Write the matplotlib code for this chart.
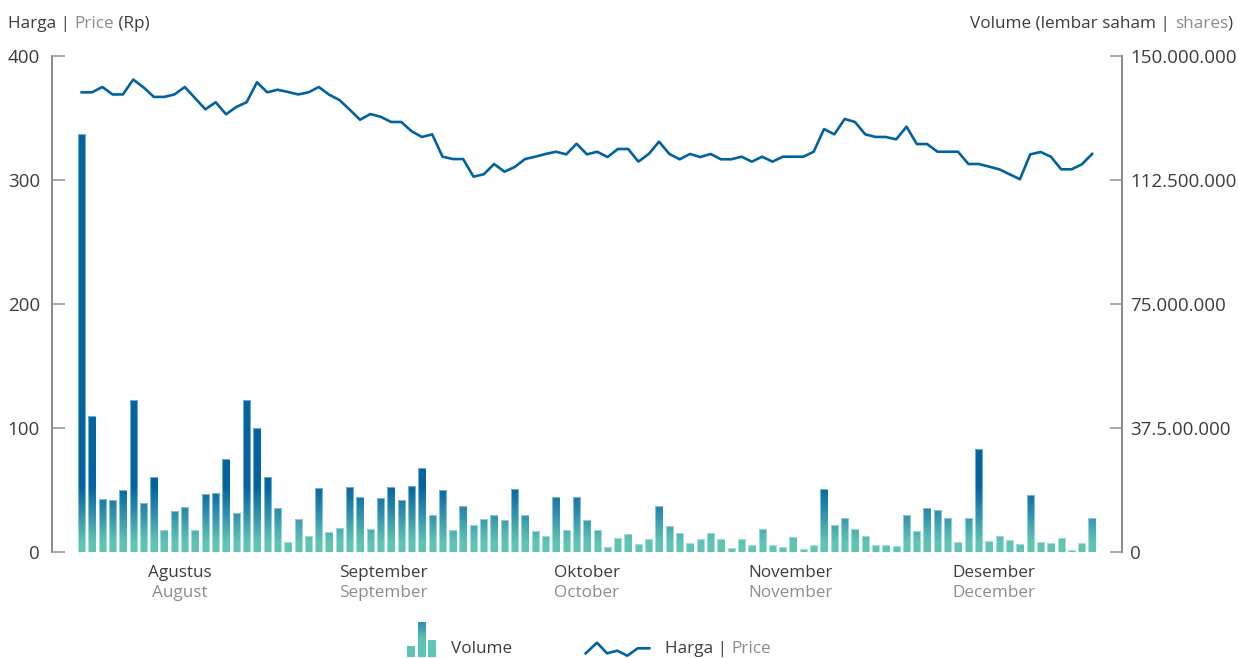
import numpy as np
import matplotlib
matplotlib.use("Agg")
import matplotlib.pyplot as plt
from matplotlib.colors import LinearSegmentedColormap
from matplotlib.patches import Rectangle
from matplotlib.ticker import FixedLocator, FixedFormatter

plt.rcParams["font.family"] = ["Open Sans", "DejaVu Sans"]

# daily volume (millions of shares), Aug - Dec
volume_mn = [126.5, 41.0, 16.0, 15.8, 18.7, 45.9, 14.9, 22.8, 6.6, 12.5,
             13.6, 6.7, 17.4, 17.8, 28.0, 11.8, 45.9, 37.5, 22.8, 13.4,
             3.1, 10.0, 4.8, 19.4, 6.0, 7.4, 19.7, 16.5, 7.0, 16.3,
             19.6, 15.8, 19.9, 25.3, 11.1, 18.8, 6.7, 14.0, 8.1, 9.9,
             11.1, 9.7, 19.1, 11.2, 6.4, 4.8, 16.5, 6.6, 16.5, 9.6,
             6.6, 1.6, 4.1, 5.5, 2.4, 4.0, 13.8, 7.9, 5.7, 2.7,
             3.9, 5.6, 3.8, 1.3, 3.9, 2.1, 6.9, 2.1, 1.4, 4.5,
             0.8, 2.0, 19.1, 8.1, 10.3, 7.0, 4.7, 2.1, 2.0, 1.8,
             11.1, 6.4, 13.3, 12.8, 10.2, 3.0, 10.3, 31.2, 3.2, 4.8,
             3.6, 2.3, 17.1, 2.9, 2.7, 4.2, 0.7, 2.7, 10.4]

# closing price (Rp)
price = [370.7, 370.7, 375, 369, 369, 381, 374.7, 367, 367, 369,
         375, 366, 357, 362.7, 353, 358.9, 362.7, 378.8, 370.7, 372.8,
         371, 369, 370.7, 375, 368.8, 364.5, 356.7, 348.6, 353.2, 351,
         346.8, 346.8, 339.3, 334.7, 336.8, 318.8, 316.9, 316.9, 302.7, 304.6,
         312.9, 306.7, 310.5, 316.9, 318.8, 321, 322.8, 320.7, 329.3, 320.7,
         322.8, 318.5, 325, 325, 314.8, 321, 330.9, 321, 316.7, 321,
         318.5, 321, 316.7, 316.7, 318.8, 314.8, 318.8, 314.8, 318.8, 318.8,
         318.8, 322.8, 341.1, 336.8, 349.2, 346.8, 336.8, 334.7, 334.7, 332.8,
         343, 329, 329, 322.8, 322.8, 322.8, 312.9, 312.9, 310.8, 308.6,
         304.6, 300.6, 320.7, 322.6, 318.8, 308.6, 308.6, 312.6, 321]

months_id = ["Agustus", "September", "Oktober", "November", "Desember"]
months_en = ["August", "September", "October", "November", "December"]
month_pos = [9.5, 29.25, 49, 68.75, 88.5]

price_ticks = [0, 100, 200, 300, 400]
vol_ticks = [0, 37.5e6, 75e6, 112.5e6, 150e6]
vol_labels = ["0", "37.5.00.000", "75.000.000", "112.500.000", "150.000.000"]

DARK = "#3c3c3c"
GRAY = "#8c8c8c"
BLUE = "#0063a0"
TEAL = "#5ec4b4"

volume = np.array(volume_mn) * 1e6
x = np.arange(len(volume))

fig = plt.figure(figsize=(12.38, 6.58), dpi=100)
ax_v = fig.add_axes([0.0424, 0.1611, 0.8639, 0.7538])
ax_p = ax_v.twinx()

# ---- volume bars with gradient ----
cmap = LinearSegmentedColormap.from_list("vol", [TEAL, "#2e8fae", BLUE])
vmax = 150e6
levels = np.linspace(0, vmax, 1500)
t = np.clip((levels - 3e6) / 17e6, 0, 1)
grad = cmap(t)[:, None, :]

bars = ax_v.bar(x, volume, width=0.71, facecolor="none",
                edgecolor=(1, 1, 1, 0.45), linewidth=0.8, zorder=3)
for b in bars:
    x0 = b.get_x()
    im = ax_v.imshow(grad, extent=[x0, x0 + b.get_width(), 0, vmax],
                     origin="lower", aspect="auto", zorder=2,
                     interpolation="antialiased")
    im.set_clip_path(b)

ax_v.set_xlim(-2.83, 100.9)
ax_v.set_ylim(0, vmax)

# ---- price line ----
ax_p.plot(x, price, color=BLUE, linewidth=1.9, zorder=4)
ax_p.set_ylim(0, 400)

# put price axis on the left, volume on the right
ax_p.yaxis.tick_left()
ax_v.yaxis.tick_right()
ax_p.yaxis.set_major_locator(FixedLocator(price_ticks))
ax_v.yaxis.set_major_locator(FixedLocator(vol_ticks))
ax_v.yaxis.set_major_formatter(FixedFormatter(vol_labels))

for a in (ax_v, ax_p):
    for s in ("top", "bottom"):
        a.spines[s].set_visible(False)
    a.spines["left"].set_color("#8a8a8a")
    a.spines["right"].set_color("#8a8a8a")
    a.spines["left"].set_linewidth(1.2)
    a.spines["right"].set_linewidth(1.2)
    a.tick_params(axis="x", bottom=False, labelbottom=False)
    a.tick_params(axis="y", direction="in", length=9, width=1.4,
                  color="#a8a8a8", labelsize=13.5, labelcolor=DARK, pad=9)
ax_v.tick_params(axis="y", pad=6)
ax_v.patch.set_visible(False)
ax_p.patch.set_visible(False)

# month labels
for pos, m1, m2 in zip(month_pos, months_id, months_en):
    ax_v.text(pos, -0.0504, m1, transform=ax_v.get_xaxis_transform(),
              ha="center", va="baseline", fontsize=12.3, color=DARK)
    ax_v.text(pos, -0.0907, m2, transform=ax_v.get_xaxis_transform(),
              ha="center", va="baseline", fontsize=12.3, color=GRAY)

# ---- overlay in pixel coordinates for titles and legend ----
ov = fig.add_axes([0, 0, 1, 1], zorder=10)
ov.set_xlim(0, 1238)
ov.set_ylim(658, 0)
ov.axis("off")
renderer = fig.canvas.get_renderer()


def text_width(s, size):
    t1 = ov.text(0, 0, s + "x", fontsize=size)
    t2 = ov.text(0, 0, "x", fontsize=size)
    w = t1.get_window_extent(renderer).width - t2.get_window_extent(renderer).width
    t1.remove()
    t2.remove()
    return w


def pieces(xs, y, parts, size, align="left"):
    total = sum(text_width(s, size) for s, _ in parts)
    cx = xs - total if align == "right" else xs
    for s, c in parts:
        ov.text(cx, y, s, fontsize=size, color=c, ha="left", va="baseline")
        cx += text_width(s, size)


pieces(8, 28, [("Harga | ", DARK), ("Price", GRAY), (" (Rp)", DARK)], 12.3)
pieces(1233, 28, [("Volume (lembar saham | ", DARK), ("shares", GRAY),
                  (")", DARK)], 12.3, align="right")

# legend: bar icon
ov.add_patch(Rectangle((407.3, 645.7), 7.7, 11.5, color=TEAL, lw=0))
ov.add_patch(Rectangle((428.3, 640.0), 7.7, 17.2, color=TEAL, lw=0))
leg_cmap = LinearSegmentedColormap.from_list("leg", [TEAL, TEAL, "#2f8fae"])
leg_grad = leg_cmap(np.linspace(0, 1, 50))[:, None, :]
ov.imshow(leg_grad, extent=[418.0, 425.7, 657.2, 622.7], origin="lower",
          aspect="auto", interpolation="bilinear")
ov.set_xlim(0, 1238)
ov.set_ylim(658, 0)
ov.text(451, 653, "Volume", fontsize=12.3, color=DARK, va="baseline")

# legend: line icon
lx = [585.7, 597, 607, 617.3, 627.3, 637.7, 649.3]
ly = [653.3, 642.7, 653.3, 650.7, 655.7, 648.3, 648.3]
ov.plot(lx, ly, color=BLUE, linewidth=1.9)
pieces(665, 653, [("Harga | ", DARK), ("Price", GRAY)], 12.3)

fig.savefig("out.png", dpi=100)
